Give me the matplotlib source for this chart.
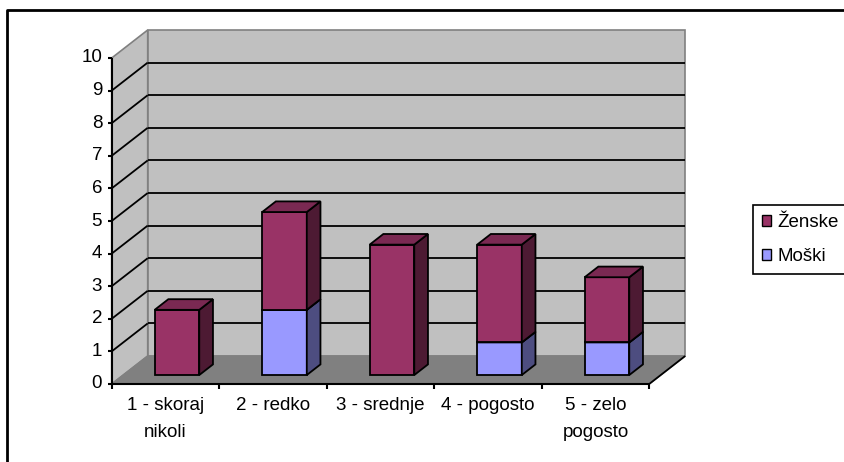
import matplotlib
matplotlib.use('Agg')
import matplotlib.pyplot as plt
from matplotlib.patches import Polygon, Patch
from matplotlib.lines import Line2D

categories = ['1 - skoraj\nnikoli', '2 - redko', '3 - srednje', '4 - pogosto', '5 - zelo\npogosto']
moski = [0, 2, 0, 1, 1]
zenske = [2, 3, 4, 3, 2]
yticks = list(range(0, 11))

FS = 13.5
plt.rcParams['font.family'] = ['Liberation Sans', 'DejaVu Sans']
plt.rcParams['font.size'] = FS

W, H = 844, 462
fig = plt.figure(figsize=(W / 100, H / 100), dpi=100)
ax = fig.add_axes([0, 0, 1, 1])

# front plane: category 0 starts at 111.7px, value 0 sits at 384px
x0px, cat_px = 111.7, 107.5
y0px, val_px = 384.0, 32.6
ax.set_xlim(-x0px / cat_px, (W - x0px) / cat_px)
ax.set_ylim((y0px - H) / val_px, y0px / val_px)
ax.axis('off')

# depth offset of the back wall
DX = 36 / cat_px
DY = 28 / val_px
n = len(categories)
vmax = yticks[-1]


def proj(x, v, d):
    return (x + d * DX, v + d * DY)


def poly(pts, fc, ec, lw=1.0, z=1):
    ax.add_patch(Polygon(pts, closed=True, facecolor=fc, edgecolor=ec,
                         linewidth=lw, zorder=z, joinstyle='miter'))


def seg(p, q, color='black', lw=1.3, z=2):
    ax.plot([p[0], q[0]], [p[1], q[1]], color=color, lw=lw, zorder=z,
            solid_capstyle='butt')


# walls and floor
wall = '#c0c0c0'
edge = '#808080'
poly([proj(0, 0, 0), proj(0, vmax, 0), proj(0, vmax, 1), proj(0, 0, 1)], wall, edge, 1.2)
poly([proj(0, 0, 1), proj(n, 0, 1), proj(n, vmax, 1), proj(0, vmax, 1)], wall, edge, 1.2)
for v in yticks[1:-1]:
    seg(proj(0, v, 0), proj(0, v, 1))
    seg(proj(0, v, 1), proj(n, v, 1))
poly([proj(0, 0, 0), proj(n, 0, 0), proj(n, 0, 1), proj(0, 0, 1)], '#808080', edge, 1.0, z=3)
seg(proj(n, 0, 0), proj(n, 0, 1), z=4)

# axes lines and ticks
seg((0, 0), (0, vmax), lw=1.5, z=5)
seg((0, 0), (n, 0), lw=1.5, z=5)
for v in yticks:
    seg((0, v), (-4 / cat_px, v), lw=1.5, z=5)
    ax.text(-9.5 / cat_px, v, str(v), ha='right', va='center', fontsize=FS)
for i in range(n + 1):
    seg((i, 0), (i, -5 / val_px), lw=1.5, z=5)
for i, lab in enumerate(categories):
    ax.text(i + 0.5, (y0px - 397) / val_px, lab, ha='center', va='top',
            multialignment='center', linespacing=1.75, fontsize=FS)

# stacked 3D columns
series = [
    (moski, '#9999ff', '#4d4d80', '#7a7acc'),
    (zenske, '#993366', '#4d1a33', '#7a2952'),
]
bw = 0.415
d0, d1 = 0.32, 0.70
for i in range(n):
    xl = i + 0.5 - bw / 2
    xr = i + 0.5 + bw / 2
    bottom = 0
    for vals, front, side, top in series:
        h = vals[i]
        if h == 0:
            continue
        b, t = bottom, bottom + h
        z = 10 + i
        poly([proj(xl, b, d0), proj(xr, b, d0), proj(xr, t, d0), proj(xl, t, d0)], front, 'black', 1.3, z)
        poly([proj(xr, b, d0), proj(xr, b, d1), proj(xr, t, d1), proj(xr, t, d0)], side, 'black', 1.3, z)
        poly([proj(xl, t, d0), proj(xr, t, d0), proj(xr, t, d1), proj(xl, t, d1)], top, 'black', 1.3, z)
        bottom = t

# legend
handles = [Patch(facecolor='#993366', edgecolor='black', linewidth=1.0),
           Patch(facecolor='#9999ff', edgecolor='black', linewidth=1.0)]
leg = fig.legend(handles, ['Ženske', 'Moški'], loc='upper left',
                 bbox_to_anchor=(752.7 / W, 1 - 205 / H), frameon=True,
                 fancybox=False, edgecolor='black', framealpha=1,
                 handlelength=0.5, handleheight=0.5, handletextpad=0.35,
                 labelspacing=0.9, borderpad=0.48, borderaxespad=0,
                 fontsize=FS)
leg.get_frame().set_linewidth(1.2)

# outer chart border
fig.add_artist(Line2D([7 / W, 7 / W, 1.01], [-0.01, 1 - 10 / H, 1 - 10 / H],
                      transform=fig.transFigure, color='black', lw=2))

fig.savefig('out.png', dpi=100)
